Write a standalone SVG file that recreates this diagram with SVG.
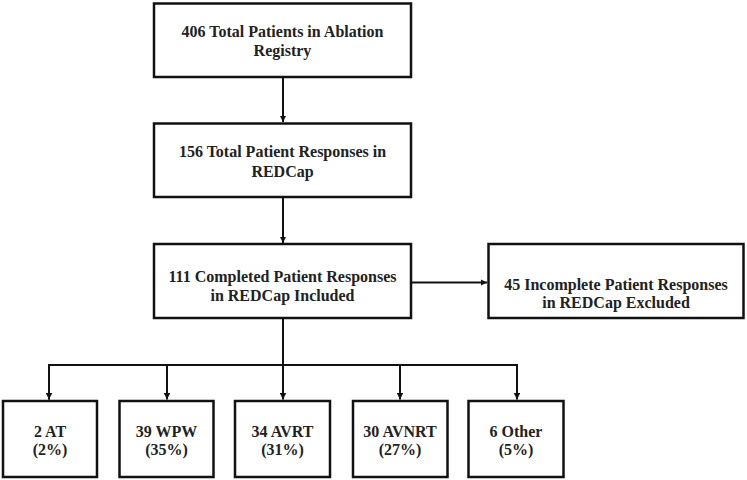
<svg xmlns="http://www.w3.org/2000/svg" width="747" height="480" viewBox="0 0 747 480">
<style>
.box{fill:#fff;stroke:#111;stroke-width:2.5}
.t{font-family:"Liberation Serif","Times New Roman",serif;font-weight:bold;font-size:16px;fill:#222;text-anchor:middle}
.c{fill:none;stroke:#111;stroke-width:2}
</style>
<defs>
<marker id="ah" viewBox="0 0 10 10" refX="10" refY="5" markerWidth="3.2" markerHeight="3.2" orient="auto" markerUnits="strokeWidth">
<path d="M0,0 L10,5 L0,10 Z" fill="#111"/>
</marker>
</defs>
<rect width="747" height="480" fill="#fff"/>
<g id="connectors">
<line class="c" x1="283" y1="77" x2="283" y2="122" marker-end="url(#ah)"/>
<line class="c" x1="283" y1="197" x2="283" y2="243" marker-end="url(#ah)"/>
<line class="c" x1="411" y1="282.5" x2="487" y2="282.5" marker-end="url(#ah)"/>
<line class="c" x1="283" y1="318" x2="283" y2="399.5" marker-end="url(#ah)"/>
<polyline class="c" points="49,399.5 49,365 517,365 517,399.5" marker-end="url(#ah)"/>
<line class="c" x1="49" y1="365" x2="49" y2="399.5" marker-end="url(#ah)"/>
<line class="c" x1="167" y1="365" x2="167" y2="399.5" marker-end="url(#ah)"/>
<line class="c" x1="400" y1="365" x2="400" y2="399.5" marker-end="url(#ah)"/>
</g>
<g id="n1">
<rect class="box" x="154" y="3.5" width="257" height="73.5"/>
<text class="t" x="282.5" y="37">406 Total Patients in Ablation</text>
<text class="t" x="282.5" y="56">Registry</text>
</g>
<g id="n2">
<rect class="box" x="154" y="123.5" width="257" height="73.5"/>
<text class="t" x="282.5" y="157">156 Total Patient Responses in</text>
<text class="t" x="282.5" y="177">REDCap</text>
</g>
<g id="n3">
<rect class="box" x="154" y="244" width="257" height="74"/>
<text class="t" x="282.5" y="282">111 Completed Patient Responses</text>
<text class="t" x="282.5" y="301">in REDCap Included</text>
</g>
<g id="n4">
<rect class="box" x="488.5" y="244" width="255" height="74"/>
<text class="t" x="616" y="290">45 Incomplete Patient Responses</text>
<text class="t" x="616" y="308">in REDCap Excluded</text>
</g>
<g id="n5">
<rect class="box" x="3" y="401" width="94" height="76"/>
<text class="t" x="50" y="437">2 AT</text>
<text class="t" x="50" y="455">(2%)</text>
</g>
<g id="n6">
<rect class="box" x="119.5" y="401" width="94" height="76"/>
<text class="t" x="166.5" y="437">39 WPW</text>
<text class="t" x="166.5" y="455">(35%)</text>
</g>
<g id="n7">
<rect class="box" x="235" y="401" width="95" height="76"/>
<text class="t" x="282.5" y="437">34 AVRT</text>
<text class="t" x="282.5" y="455">(31%)</text>
</g>
<g id="n8">
<rect class="box" x="353" y="401" width="94.5" height="76"/>
<text class="t" x="400" y="437">30 AVNRT</text>
<text class="t" x="400" y="455">(27%)</text>
</g>
<g id="n9">
<rect class="box" x="468.5" y="401" width="95" height="76"/>
<text class="t" x="516" y="437">6 Other</text>
<text class="t" x="516" y="455">(5%)</text>
</g>
</svg>
